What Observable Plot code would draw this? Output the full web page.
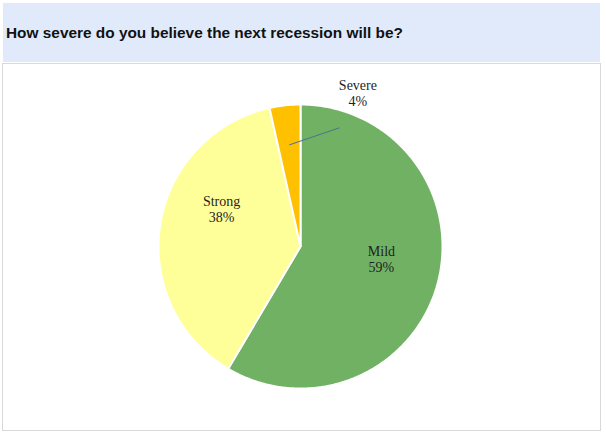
<!DOCTYPE html>
<html>
<head>
<meta charset="utf-8">
<script src="https://cdn.jsdelivr.net/npm/d3@7"></script>
<script src="https://cdn.jsdelivr.net/npm/@observablehq/plot@0.6"></script>
<style>
  body { margin: 0; background: #ffffff; }
  #hdr { position: absolute; left: 3px; top: 3px; width: 597px; height: 59px; background: #e0eafa; }
  #title { position: absolute; left: 3px; top: 21px; font: bold 15.4px "Liberation Sans", Arial, sans-serif; line-height: 18px; color: #111; white-space: nowrap; }
  #panel { position: absolute; left: 2px; top: 63px; width: 597px; height: 366px; border: 1px solid #d9d9d9; background: #fff; }
  #panel svg { display: block; }
</style>
</head>
<body>
<div id="hdr"><div id="title">How severe do you believe the next recession will be?</div></div>
<div id="panel"></div>
<script>
// ---- data ----
const categories = ["Mild", "Strong", "Severe"];
const shares = [58.5, 38, 3.5];          // estimated slice sizes (percent)
const shareLabels = ["59%", "38%", "4%"];  // labels as printed
const colors = ["#71b164", "#ffff99", "#ffc000"];

// ---- layout ----
const W = 597, H = 366, R = 142, CX = 297, CY = 182;

const table = categories.map((name, i) => ({name, share: shares[i], label: shareLabels[i]}));
const arcs = d3.pie().sort(null).value(d => d.share)(table);

const polar = (a, r) => ({x: r * Math.sin(a), y: r * Math.cos(a)});

// slice outlines (center -> arc -> center), in units of the radius
const points = [];
for (const a of arcs) {
  const n = Math.max(4, Math.ceil((a.endAngle - a.startAngle) / (Math.PI / 360)));
  points.push({name: a.data.name, x: 0, y: 0});
  for (let k = 0; k <= n; k++) {
    const t = a.startAngle + (a.endAngle - a.startAngle) * k / n;
    points.push({name: a.data.name, ...polar(t, 1)});
  }
  points.push({name: a.data.name, x: 0, y: 0});
}

const mid = a => (a.startAngle + a.endAngle) / 2;
const labelPts = arcs.map(a => {
  const r = a.data.name === "Severe" ? 1 : 0.58;
  return {name: a.data.name, text: a.data.name + "\n" + a.data.label, ...polar(mid(a), r)};
});
const sev = arcs[2];
const leader = [{
  x1: polar(mid(sev), 0.72).x, y1: polar(mid(sev), 0.72).y,
  x2: polar(mid(sev) + 24.5 * Math.PI / 180, 0.88).x, y2: polar(mid(sev) + 24.5 * Math.PI / 180, 0.88).y
}];

const textOpts = {x: "x", y: "y", text: "text", fontFamily: "Liberation Serif, Times New Roman, serif",
  fontSize: 14, lineHeight: 1.14, fill: "#1f1f1f", textAnchor: "middle", lineAnchor: "middle"};
const offsets = {Mild: [1.5, -9], Strong: [2.4, -24.6], Severe: [73, -12.4]};

const chart = Plot.plot({
  width: W, height: H,
  marginTop: 0, marginRight: 0, marginBottom: 0, marginLeft: 0,
  x: {domain: [-CX / R, (W - CX) / R], axis: null},
  y: {domain: [-(H - CY) / R, CY / R], axis: null},
  color: {domain: categories, range: colors},
  style: {background: "transparent"},
  marks: [
    Plot.line(points, {x: "x", y: "y", z: "name", fill: "name", stroke: "white", strokeWidth: 2, strokeLinejoin: "miter", curve: "linear"}),
    Plot.link(leader, {x1: "x1", y1: "y1", x2: "x2", y2: "y2", stroke: "#4e6f96", strokeWidth: 1}),
    ...categories.map(c => Plot.text(labelPts.filter(d => d.name === c),
      {...textOpts, dx: offsets[c][0], dy: offsets[c][1]}))
  ]
});
document.getElementById("panel").appendChild(chart);
</script>
</body>
</html>
